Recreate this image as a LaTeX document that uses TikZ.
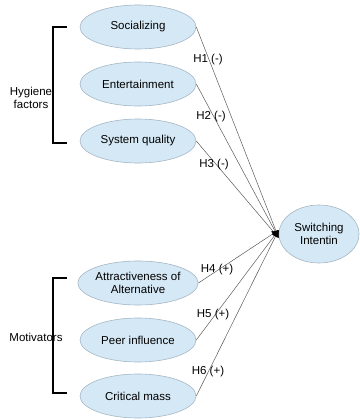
\documentclass[tikz,border=0pt]{standalone}
\usepackage{fontspec}
\setmainfont{Liberation Sans}
\usetikzlibrary{shapes.geometric,arrows.meta}
\definecolor{ellfill}{RGB}{213,232,245}
\definecolor{elldraw}{RGB}{165,182,196}
\definecolor{linkgray}{RGB}{90,90,90}
\tikzset{
  factor/.style={ellipse, draw=elldraw, line width=0.6pt, fill=ellfill,
    minimum width=116pt, minimum height=44pt, inner sep=0pt,
    font=\fontsize{11.5pt}{13pt}\selectfont, align=center},
  target/.style={factor, minimum width=80pt, minimum height=58pt},
  link/.style={draw=linkgray, line width=0.5pt, -{Latex[length=7pt,width=6pt,black]}},
  hyp/.style={font=\fontsize{11.5pt}{13pt}\selectfont, inner sep=0pt},
  bracket/.style={draw=black, line width=2.6pt},
  grouplabel/.style={font=\fontsize{11.5pt}{13pt}\selectfont, align=center, inner sep=0pt}
}
\begin{document}
\begin{tikzpicture}[x=1pt,y=-1pt]
\useasboundingbox (0,0) rectangle (359,420);

% group labels (drawn first so the brackets sit on top)
\node[grouplabel] (hyg) at (31,98) {Hygiene\\factors};
\node[grouplabel] (mot) at (36,337) {Motivators};

% brackets
\coordinate (b1a) at (67,27);
\coordinate (b1b) at (53,27);
\coordinate (b1c) at (53,143);
\coordinate (b1d) at (67,143);
\draw[bracket] (b1a) -- (b1b) -- (b1c) -- (b1d);
\coordinate (b2a) at (67,278);
\coordinate (b2b) at (53,278);
\coordinate (b2c) at (53,393);
\coordinate (b2d) at (67,393);
\draw[bracket] (b2a) -- (b2b) -- (b2c) -- (b2d);

% factors
\node[factor] (soc) at (138,27) {Socializing};
\node[factor] (ent) at (138,84) {Entertainment};
\node[factor] (sys) at (138,141) {System quality};
\node[factor] (att) at (138,283) {Attractiveness of\\Alternative};
\node[factor] (peer) at (138,340) {Peer influence};
\node[factor] (crit) at (138,396) {Critical mass};

% outcome
\node[target] (sw) at (319,234) {Switching\\Intentin};

% hypotheses
\draw[link] (soc.east) -- ([yshift=-4pt]sw.west);
\draw[link] (ent.east) -- ([yshift=-4pt]sw.west);
\draw[link] (sys.east) -- ([yshift=-4pt]sw.west);
\draw[link] (att.east) -- ([yshift=4pt]sw.west);
\draw[link] (peer.east) -- ([yshift=4pt]sw.west);
\draw[link] (crit.east) -- ([yshift=4pt]sw.west);

\node[hyp] (h1) at (208,60) {H1 (-)};
\node[hyp] (h2) at (211,117) {H2 (-)};
\node[hyp] (h3) at (214,165) {H3 (-)};
\node[hyp] (h4) at (217,270) {H4 (+)};
\node[hyp] (h5) at (213,315) {H5 (+)};
\node[hyp] (h6) at (208,372) {H6 (+)};
\end{tikzpicture}
\end{document}
